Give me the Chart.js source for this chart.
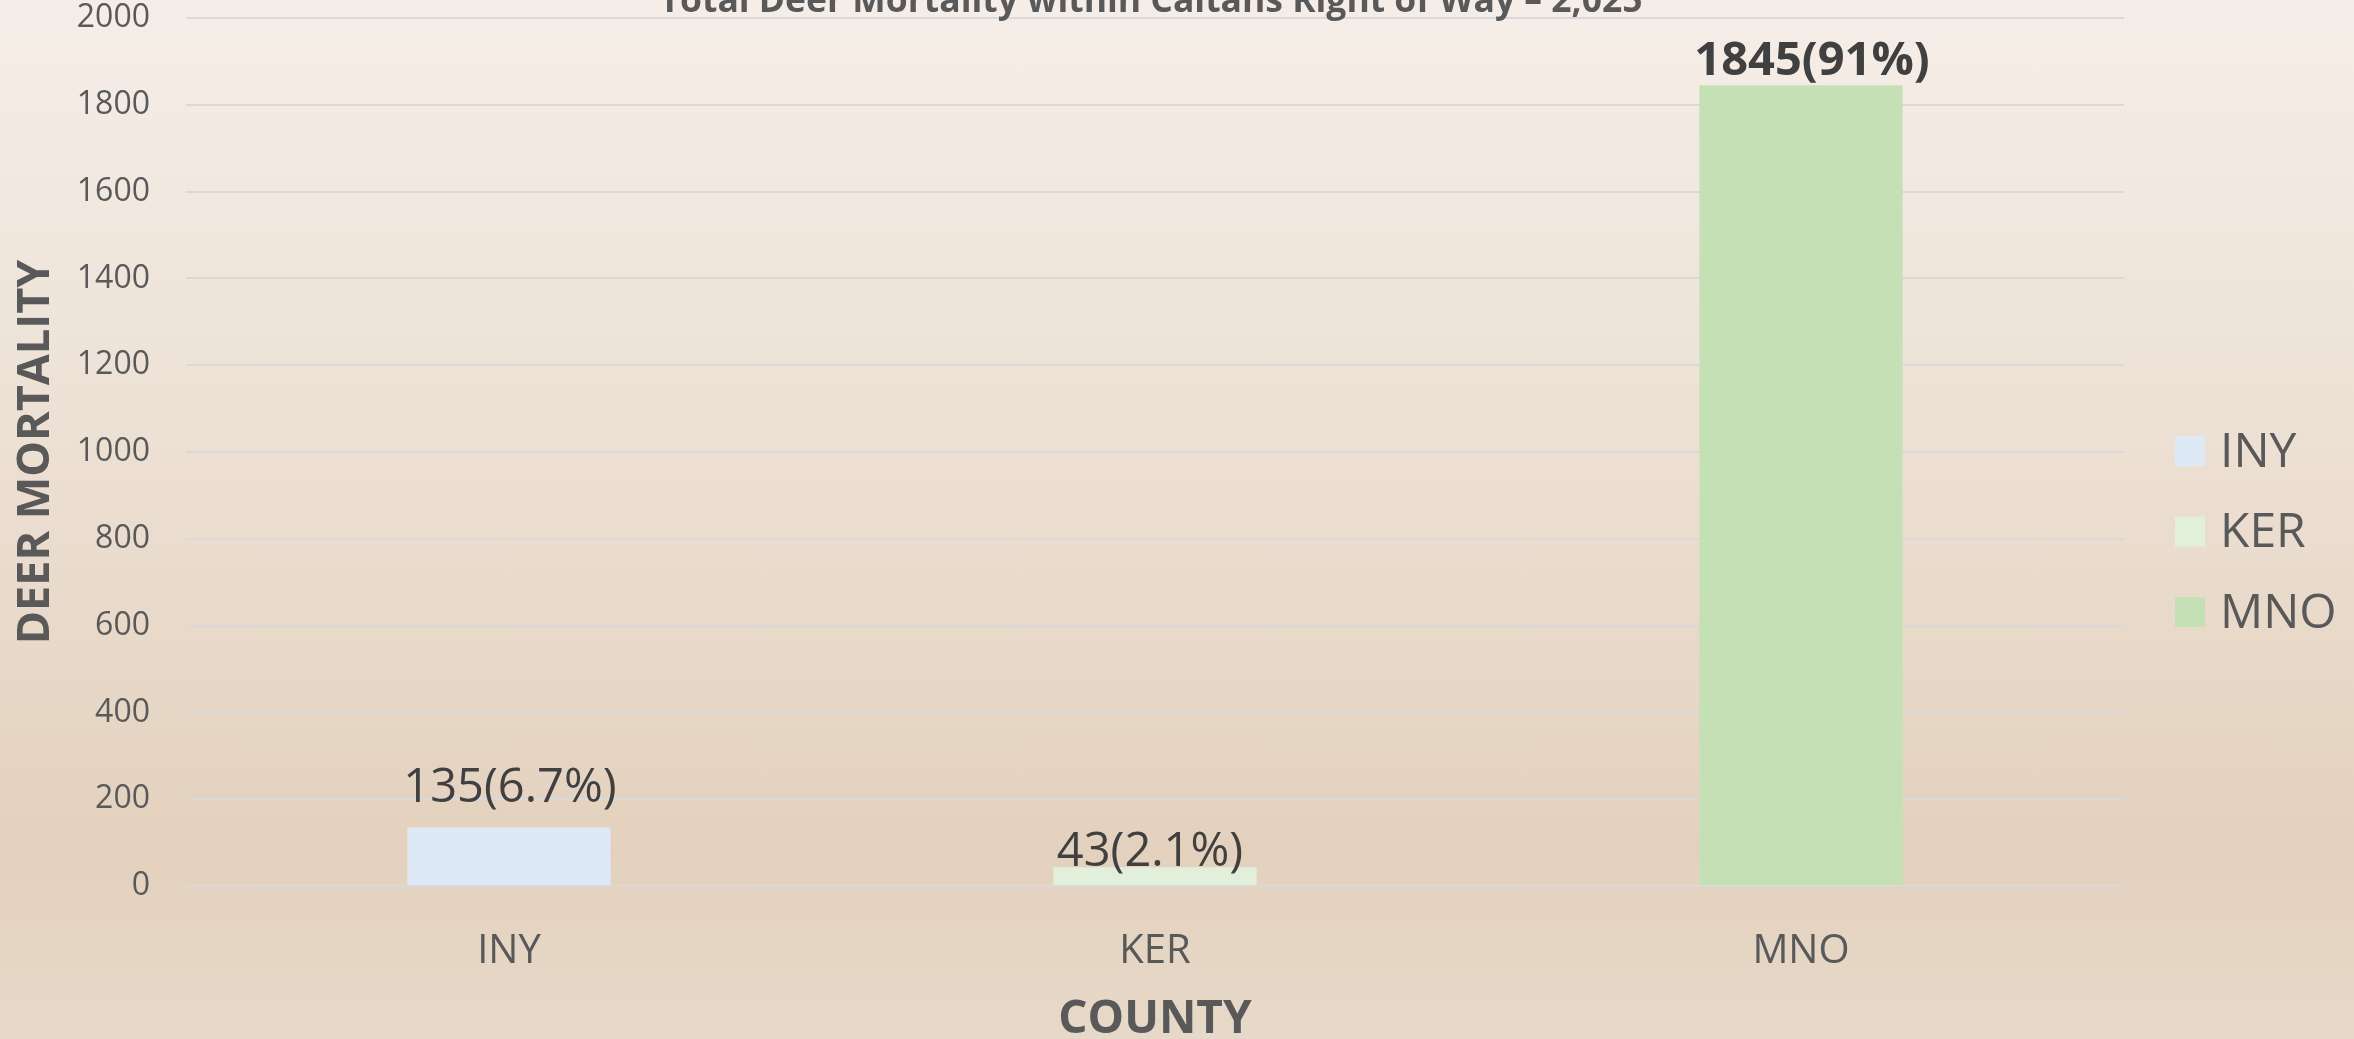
<!DOCTYPE html>
<html>
<head>
<meta charset="utf-8">
<script src="https://cdn.jsdelivr.net/npm/chart.js@4.4.1/dist/chart.umd.min.js"></script>
<style>
    html, body { margin: 0; padding: 0; }
    body {
        width: 2354px;
        height: 1039px;
        overflow: hidden;
        background: linear-gradient(180deg, #f5eee8 0%, #ede1d5 40%, #e3d1bd 82%, #e7d9c9 100%);
    }
    canvas { display: block; }
</style>
</head>
<body>
<canvas id="deerChart" width="2354" height="1039"></canvas>
<script>
const TITLE = 'Total Deer Mortality within Caltans Right of Way \u2013 2,025';
const counties = ['INY', 'KER', 'MNO'];
const mortality = [135, 43, 1845];
const valueLabels = ['135(6.7%)', '43(2.1%)', '1845(91%)'];
const yMin = 0;
const yMax = 2000;
const yStep = 200;

const BAR_COLORS = ['#dde9f5', '#e2efdb', '#c5e0b4'];
const TEXT = '#595959';
const LABEL_TEXT = '#404040';
const FONT = '"Open Sans", "Noto Sans", sans-serif';

// Excel placed the data labels a little unevenly, keep that look
const labelLift = [25, 1, 10];
const labelShift = [1, -5, 11];
const labelBold = [false, false, true];

const valueLabelPlugin = {
    id: 'valueLabels',
    afterDatasetsDraw(chart) {
        const { ctx } = chart;
        const bars = chart.getDatasetMeta(0).data;
        ctx.save();
        ctx.fillStyle = LABEL_TEXT;
        ctx.textAlign = 'center';
        ctx.textBaseline = 'alphabetic';
        bars.forEach((bar, i) => {
            ctx.font = `${labelBold[i] ? 'bold ' : ''}47px ${FONT}`;
            ctx.fillText(valueLabels[i], bar.x + labelShift[i], bar.y - labelLift[i]);
        });
        ctx.restore();
    },
};

// title sits mostly above the canvas edge in the original
const cutTitlePlugin = {
    id: 'cutTitle',
    afterDraw(chart) {
        const { ctx } = chart;
        ctx.save();
        ctx.font = `bold 35px ${FONT}`;
        const w = ctx.measureText(TITLE).width;
        ctx.translate(1151, 12);
        ctx.scale(983 / w, 1);
        ctx.textAlign = 'center';
        ctx.textBaseline = 'alphabetic';
        ctx.fillStyle = TEXT;
        ctx.fillText(TITLE, 0, 0);
        ctx.restore();
    },
};

const sideLegendPlugin = {
    id: 'sideLegend',
    afterDraw(chart) {
        const { ctx } = chart;
        const colors = chart.data.datasets[0].backgroundColor;
        ctx.save();
        ctx.font = `48px ${FONT}`;
        ctx.textAlign = 'left';
        ctx.textBaseline = 'middle';
        chart.data.labels.forEach((name, i) => {
            const y = 451 + i * 80.5;
            ctx.fillStyle = colors[i];
            ctx.fillRect(2175, y - 15, 30, 30);
            ctx.fillStyle = TEXT;
            ctx.fillText(name, 2220, y + 2);
        });
        ctx.restore();
    },
};

const canvas = document.getElementById('deerChart');

new Chart(canvas.getContext('2d'), {
    type: 'bar',
    data: {
        labels: counties,
        datasets: [
            {
                label: 'Deer mortality',
                data: mortality,
                backgroundColor: BAR_COLORS,
                borderWidth: 0,
                categoryPercentage: 1,
                barPercentage: 0.3146,
            },
        ],
    },
    options: {
        responsive: false,
        animation: false,
        devicePixelRatio: 1,
        layout: {
            padding: { top: 18, right: 230, bottom: 0, left: 0 },
        },
        plugins: {
            legend: { display: false },
            tooltip: { enabled: false },
        },
        scales: {
            x: {
                grid: { display: false, drawTicks: false },
                border: { display: false },
                ticks: {
                    color: TEXT,
                    font: { family: FONT, size: 40 },
                    padding: 42,
                },
                title: {
                    display: true,
                    text: 'COUNTY',
                    color: TEXT,
                    font: { family: FONT, size: 46, weight: 'bold' },
                    padding: { top: 0, bottom: -8 },
                },
                afterFit(scale) {
                    scale.height = 153;
                },
            },
            y: {
                min: yMin,
                max: yMax,
                grid: {
                    color: '#d9d9d9',
                    lineWidth: 2,
                    drawTicks: false,
                },
                border: { display: false },
                ticks: {
                    stepSize: yStep,
                    color: TEXT,
                    font: { family: FONT, size: 32 },
                    padding: 36,
                    callback: (v) => String(v),
                },
                title: {
                    display: true,
                    text: 'DEER MORTALITY',
                    color: TEXT,
                    font: { family: FONT, size: 45, weight: 'bold' },
                    padding: { top: 9, bottom: 0 },
                },
                afterFit(scale) {
                    scale.width = 186;
                    // tick padding would otherwise push the plot top down
                    scale.paddingTop = 0;
                    scale.paddingBottom = 0;
                },
            },
        },
    },
    plugins: [valueLabelPlugin, cutTitlePlugin, sideLegendPlugin],
});
</script>
</body>
</html>
